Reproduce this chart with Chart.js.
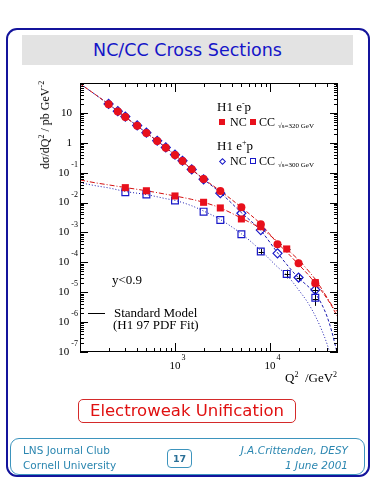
<!DOCTYPE html>
<html>
<head>
<meta charset="utf-8">
<title>NC/CC Cross Sections</title>
<script src="https://cdn.jsdelivr.net/npm/chart.js@4.4.1/dist/chart.umd.min.js"></script>
<style>
  html, body { margin: 0; padding: 0; background: #fff; }
  body { position: relative; width: 375px; height: 500px; overflow: hidden; }
  #xsecChart { position: absolute; left: 0; top: 0; }
  .frame { position: absolute; left: 6px; top: 28px; width: 364px; height: 449px; box-sizing: border-box; border: 2px solid #14149c; border-radius: 11px; }
  .band { position: absolute; left: 22px; top: 35px; width: 331px; height: 30px; background: #e3e3e3; color: #1515c8; font: 17.5px "DejaVu Sans", sans-serif; line-height: 30px; text-align: center; }
  .t { position: absolute; font-family: "Liberation Serif", "Times New Roman", serif; font-size: 13px; line-height: 14px; white-space: nowrap; color: #000; }
  .t sup { font-size: 8px; line-height: 0; vertical-align: 0; position: relative; top: -5px; }
  .lg { font-size: 12px; }
  .small { font-size: 7px; }
  .ytitle { left: 45px; top: 125px; font-size: 12px; transform: translate(-50%, -50%) rotate(-90deg); }
  .ew { position: absolute; left: 78px; top: 399px; width: 218px; height: 24px; box-sizing: border-box; border: 1px solid #d42a2a; border-radius: 5px; color: #e01010; font: 16.5px "DejaVu Sans", sans-serif; line-height: 22px; text-align: center; }
  .foot { position: absolute; left: 10px; top: 438px; width: 355px; height: 37px; box-sizing: border-box; border: 1px solid #3d94bd; border-radius: 9px; }
  .ft { position: absolute; color: #2a86b0; font: 10.5px "DejaVu Sans", sans-serif; line-height: 12px; white-space: nowrap; }
  .ft.r { right: 27px; font-style: italic; text-align: right; }
  .page { position: absolute; left: 167px; top: 449px; width: 25px; height: 19px; box-sizing: border-box; border: 1px solid #3d94bd; border-radius: 4px; color: #2a6f96; font: bold 9.5px "DejaVu Sans", sans-serif; line-height: 17px; text-align: center; }
  .mk { position: absolute; box-sizing: border-box; }
</style>
</head>
<body>
<canvas id="xsecChart" width="375" height="500"></canvas>

<div class="frame"></div>
<div class="band">NC/CC Cross Sections</div>

<div class="t ytitle">dσ/dQ<sup>2</sup> / pb GeV<sup>-2</sup></div>
<div class="t" style="left:285px; top:371px;">Q<sup>2</sup>&nbsp; /GeV<sup>2</sup></div>

<div class="t" style="left:217px; top:100px;">H1 e<sup>-</sup>p</div>
<div class="mk" style="left:219px; top:119px; width:6px; height:6px; background:#e8101c;"></div>
<div class="t lg" style="left:230px; top:115px;">NC</div>
<div class="mk" style="left:250px; top:119px; width:6px; height:6px; background:#e8101c;"></div>
<div class="t lg" style="left:259px; top:115px;">CC</div>
<div class="t small" style="left:278px; top:119px;">√s=320 GeV</div>

<div class="t" style="left:217px; top:139px;">H1 e<sup>+</sup>p</div>
<div class="mk" style="left:219.5px; top:158.5px; width:5px; height:5px; border:1px solid #1818c8; transform:rotate(45deg);"></div>
<div class="t lg" style="left:230px; top:154px;">NC</div>
<div class="mk" style="left:250px; top:158px; width:6px; height:6px; border:1px solid #1818c8;"></div>
<div class="t lg" style="left:259px; top:154px;">CC</div>
<div class="t small" style="left:278px; top:158px;">√s=300 GeV</div>

<div class="t" style="left:112px; top:273px;">y&lt;0.9</div>
<div class="mk" style="left:88px; top:313px; width:17px; height:1px; background:#000;"></div>
<div class="t" style="left:114px; top:306px;">Standard Model</div>
<div class="t" style="left:113px; top:318px;">(H1 97 PDF Fit)</div>

<div class="ew">Electroweak Unification</div>

<div class="foot"></div>
<div class="ft" style="left:23px; top:444px;">LNS Journal Club</div>
<div class="ft" style="left:23px; top:459px;">Cornell University</div>
<div class="page">17</div>
<div class="ft r" style="top:444px;">J.A.Crittenden, DESY</div>
<div class="ft r" style="top:459px;">1 June 2001</div>

<script>
// measured NC points, Q^2 in GeV^2, dsigma/dQ^2 in pb/GeV^2
const ncQ2 = [200, 250, 300, 400, 500, 650, 800, 1000, 1200, 1500, 2000, 3000, 5000, 8000, 12000, 20000, 30000];
const ncEminus = [19.4, 11.1, 7.3, 3.73, 2.13, 1.15, 0.686, 0.391, 0.246, 0.130, 0.0615, 0.0244, 0.0069, 0.00188, 4.0e-4, 9.3e-5, 2.0e-5];
const ncEplus = [19.9, 11.4, 7.5, 3.8, 2.18, 1.17, 0.70, 0.40, 0.25, 0.128, 0.060, 0.0205, 0.0044, 0.0012, 2.0e-4, 3.1e-5, 1.2e-5];

// measured CC points
const ccQ2 = [300, 500, 1000, 2000, 3000, 5000, 8000, 15000, 30000];
const ccEminus = [0.0315, 0.0248, 0.0166, 0.0102, 0.0066, 0.00283, 0.00156, 2.8e-4, 2.1e-5];
const ccEplus = [0.0221, 0.0187, 0.0118, 0.00497, 0.0026, 8.7e-4, 2.3e-4, 4.1e-5, 6.5e-6];

// Standard Model curves (H1 97 PDF fit)
const smQ2 = [100, 150, 200, 300, 500, 800, 1000, 1500, 2000, 3000, 5000, 8000, 12000, 15000, 20000, 25000, 30000, 35000, 40000, 45000, 50000, 52000];
const smNcEminus = [95, 38, 19.5, 7.3, 2.15, 0.69, 0.39, 0.13, 0.062, 0.0245, 0.0069, 0.0019, 4.4e-4, 2.2e-4, 8.5e-5, 4.0e-5, 2.0e-5, 1.1e-5, 6e-6, 3.3e-6, 1.8e-6, 1.5e-6];
const smCcEminus = [0.057, 0.045, 0.039, 0.0318, 0.0248, 0.019, 0.0166, 0.0128, 0.0102, 0.0066, 0.0030, 0.00135, 5.0e-4, 2.8e-4, 1.2e-4, 5.5e-5, 2.7e-5, 1.3e-5, 6.5e-6, 3.6e-6, 2.4e-6, 2.2e-6];
const smNcEplus = [95, 38, 19.5, 7.3, 2.15, 0.69, 0.39, 0.128, 0.060, 0.0215, 0.0046, 0.00115, 2.1e-4, 8.5e-5, 3.0e-5, 1.6e-5, 9e-6, 4e-6, 1.5e-6, 4.5e-7, 1.2e-7, 8e-8];
const smCcEplus = [0.046, 0.036, 0.031, 0.0235, 0.0185, 0.0135, 0.0118, 0.0078, 0.0052, 0.0027, 9.0e-4, 2.5e-4, 7e-5, 3.8e-5, 1.2e-5, 4.5e-6, 1.6e-6, 5.5e-7, 1.8e-7, 5e-8, 1.5e-8, 1e-8];

// error bars on the high Q^2 points
const errQ2 = [8000, 12000, 15000, 15000, 20000, 20000, 30000, 30000, 30000];
const errLow = [1.8e-4, 3.2e-4, 2.3e-4, 2.9e-5, 7.2e-5, 2.3e-5, 1.4e-5, 7.5e-6, 3.5e-6];
const errHigh = [2.9e-4, 5.0e-4, 3.4e-4, 5.7e-5, 1.2e-4, 4.1e-5, 2.8e-5, 1.8e-5, 1.0e-5];

// axis labels
const xTickValues = [1e3, 1e4];
const xTickLabels = ['10^3', '10^4'];
const yTickValues = [10, 1, 1e-1, 1e-2, 1e-3, 1e-4, 1e-5, 1e-6, 1e-7];
const yTickLabels = ['10', '1', '10^-1', '10^-2', '10^-3', '10^-4', '10^-5', '10^-6', '10^-7'];

const RED = '#e8101c';
const BLUE = '#1818c8';

function pts(xs, ys) {
    return xs.map((q, i) => ({ x: q, y: ys[i] }));
}

function curve(ys, color, dash) {
    return {
        data: pts(smQ2, ys),
        showLine: true,
        borderColor: color,
        borderWidth: 1,
        borderDash: dash,
        pointRadius: 0,
        cubicInterpolationMode: 'monotone'
    };
}

const serif = '"Liberation Serif", "Times New Roman", serif';

// box, inward ticks on all four sides, and the 10^n labels
const axisFrame = {
    id: 'axisFrame',
    afterDraw(chart) {
        const { ctx, chartArea: a, scales } = chart;
        const xs = scales.x, ys = scales.y;
        ctx.save();
        ctx.strokeStyle = '#000';
        ctx.lineWidth = 1;
        ctx.strokeRect(a.left + 0.5, a.top + 0.5, a.right - a.left - 1, a.bottom - a.top - 1);

        ctx.beginPath();
        for (let d = 2; d <= 4; d++) {
            for (let m = 1; m <= 9; m++) {
                const v = m * Math.pow(10, d);
                if (v < xs.min || v > xs.max) continue;
                const px = Math.round(xs.getPixelForValue(v)) + 0.5;
                const len = m === 1 ? 9 : 4;
                ctx.moveTo(px, a.bottom); ctx.lineTo(px, a.bottom - len);
                ctx.moveTo(px, a.top); ctx.lineTo(px, a.top + len);
            }
        }
        for (let d = -7; d <= 2; d++) {
            for (let m = 1; m <= 9; m++) {
                const v = m * Math.pow(10, d);
                if (v < ys.min * 0.999 || v > ys.max * 1.001) continue;
                const py = Math.round(ys.getPixelForValue(v)) + 0.5;
                const len = m === 1 ? 8 : 4;
                ctx.moveTo(a.left, py); ctx.lineTo(a.left + len, py);
                ctx.moveTo(a.right, py); ctx.lineTo(a.right - len, py);
            }
        }
        ctx.stroke();

        ctx.fillStyle = '#000';
        ctx.textBaseline = 'middle';
        yTickValues.forEach((v, i) => {
            const py = ys.getPixelForValue(v);
            const [base, exp] = yTickLabels[i].split('^');
            ctx.font = '11px ' + serif;
            const wb = ctx.measureText(base).width;
            if (exp) {
                ctx.font = '8px ' + serif;
                const we = ctx.measureText(exp).width;
                ctx.textAlign = 'left';
                ctx.fillText(exp, a.left - 2 - we, py - 8);
                ctx.font = '11px ' + serif;
                ctx.fillText(base, a.left - 4 - we - wb, py);
            } else {
                ctx.textAlign = 'right';
                ctx.fillText(base, a.left - 8, py);
            }
        });
        xTickValues.forEach((v, i) => {
            const px = xs.getPixelForValue(v);
            const [base, exp] = xTickLabels[i].split('^');
            ctx.font = '11px ' + serif;
            ctx.textAlign = 'center';
            const wb = ctx.measureText(base).width;
            ctx.fillText(base, px, a.bottom + 14);
            ctx.font = '8px ' + serif;
            ctx.textAlign = 'left';
            ctx.fillText(exp, px + wb / 2 + 1, a.bottom + 6);
        });
        ctx.restore();
    }
};

// black error crosses, drawn after the curves and before the markers
const errorBars = {
    id: 'errorBars',
    afterDatasetDraw(chart, args) {
        if (args.index !== 4) return;
        const { ctx, scales: { x, y } } = chart;
        ctx.save();
        ctx.strokeStyle = '#000';
        ctx.lineWidth = 1;
        ctx.beginPath();
        errQ2.forEach((q, i) => {
            const px = Math.round(x.getPixelForValue(q)) + 0.5;
            const lo = y.getPixelForValue(errLow[i]);
            const hi = y.getPixelForValue(errHigh[i]);
            const mid = Math.round(y.getPixelForValue(Math.sqrt(errLow[i] * errHigh[i]))) + 0.5;
            ctx.moveTo(px, lo); ctx.lineTo(px, hi);
            ctx.moveTo(px - 3, mid); ctx.lineTo(px + 3, mid);
        });
        ctx.stroke();
        ctx.restore();
    }
};

const ctx = document.getElementById('xsecChart').getContext('2d');

new Chart(ctx, {
    type: 'scatter',
    data: {
        datasets: [
            { label: 'NC e-p', data: pts(ncQ2, ncEminus), pointStyle: 'circle', pointRadius: 4, backgroundColor: RED, borderColor: RED, borderWidth: 0 },
            { label: 'CC e-p', data: pts(ccQ2, ccEminus), pointStyle: 'rect', pointRadius: 5, backgroundColor: RED, borderColor: RED, borderWidth: 0 },
            { label: 'NC e+p', data: pts(ncQ2, ncEplus), pointStyle: 'rectRot', pointRadius: 4.5, backgroundColor: 'rgba(255,255,255,0)', borderColor: BLUE, borderWidth: 1.2 },
            { label: 'CC e+p', data: pts(ccQ2, ccEplus), pointStyle: 'rect', pointRadius: 4.8, backgroundColor: 'rgba(255,255,255,0)', borderColor: BLUE, borderWidth: 1.2 },
            curve(smNcEminus, '#d41010', [4, 2]),
            curve(smCcEminus, '#d41010', [5, 2, 1, 2]),
            curve(smNcEplus, '#1a1ab0', [3, 2]),
            curve(smCcEplus, '#1a1ab0', [1, 2])
        ]
    },
    options: {
        responsive: false,
        animation: false,
        devicePixelRatio: 1,
        layout: { padding: { left: 80, top: 83, right: 37, bottom: 148 } },
        scales: {
            x: { type: 'logarithmic', min: 100, max: 52000, display: false },
            y: { type: 'logarithmic', min: 1e-7, max: 100, display: false }
        },
        plugins: {
            legend: { display: false },
            tooltip: { enabled: false }
        }
    },
    plugins: [axisFrame, errorBars]
});
</script>
</body>
</html>
